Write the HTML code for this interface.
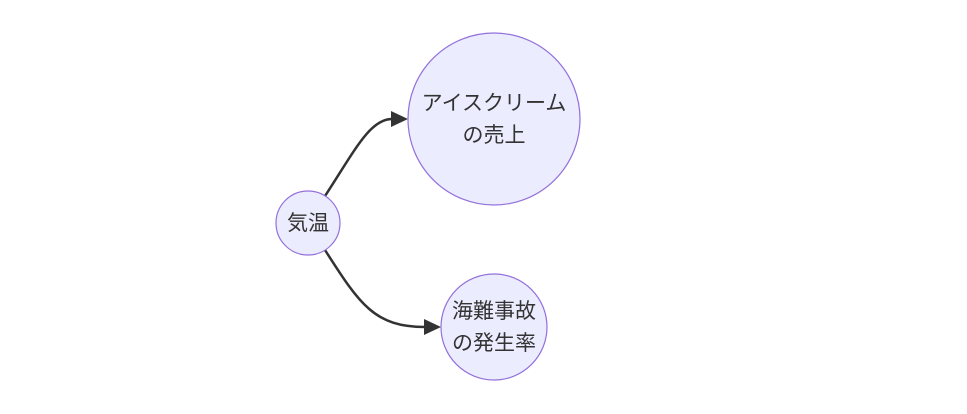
<!DOCTYPE html>
<html><head><meta charset="utf-8"><style>
html,body{margin:0;padding:0;background:#fff;width:967px;height:414px;overflow:hidden}
text{font-family:"Liberation Sans","Noto Sans CJK JP",sans-serif;font-size:21px;fill:#333}
</style></head><body>
<svg width="967" height="414" viewBox="0 0 967 414" xmlns="http://www.w3.org/2000/svg">
<path d="M325,196 C355,150 370,119 392,119" fill="none" stroke="#333" stroke-width="2.5"/>
<path d="M391,111 L408,119 L391,127 Z" fill="#333"/>
<path d="M325,250 C360,305 375,327 425,327" fill="none" stroke="#333" stroke-width="2.5"/>
<path d="M424,319 L441,327 L424,335 Z" fill="#333"/>
<circle cx="308" cy="223" r="32" fill="#ECECFF" stroke="#9370DB" stroke-width="1.2"/>
<circle cx="494" cy="119" r="86" fill="#ECECFF" stroke="#9370DB" stroke-width="1.2"/>
<circle cx="494" cy="327" r="53" fill="#ECECFF" stroke="#9370DB" stroke-width="1.2"/>
<text x="308" y="230" text-anchor="middle">気温</text>
<text x="494" y="110" text-anchor="middle">アイスクリーム</text>
<text x="494" y="142" text-anchor="middle">の売上</text>
<text x="494" y="318" text-anchor="middle">海難事故</text>
<text x="494" y="350" text-anchor="middle">の発生率</text>
</svg>
</body></html>
